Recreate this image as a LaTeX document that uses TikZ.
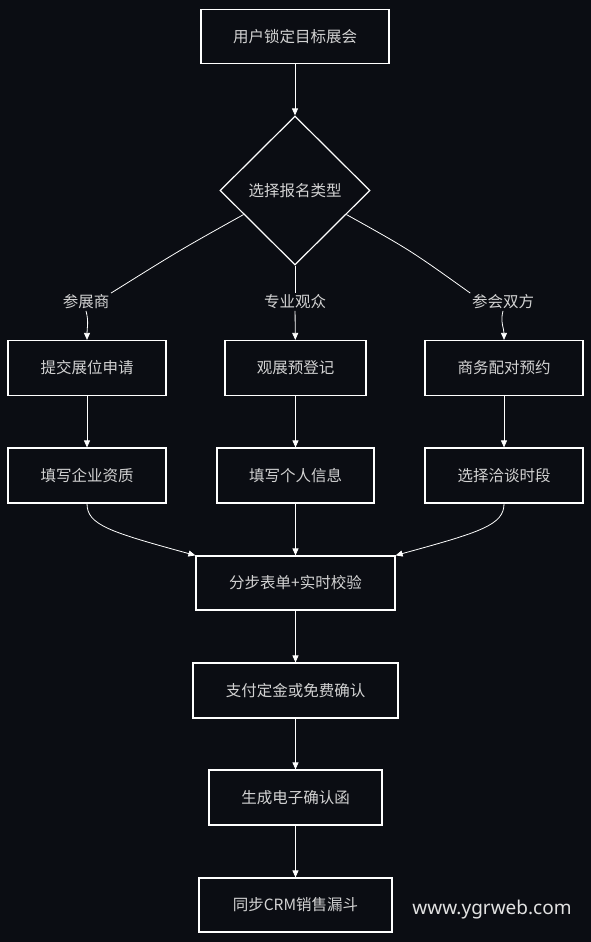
\documentclass[tikz,border=0pt]{standalone}
\usepackage{fontspec}
\setmainfont{Noto Sans CJK SC}
\newfontfamily\wmfont{Noto Sans}
\usetikzlibrary{shapes.geometric,arrows.meta,calc}
\definecolor{bg}{HTML}{0B0D13}
\definecolor{fg}{HTML}{D2D2D2}
\definecolor{wm}{HTML}{E2E2E2}
\begin{document}
\begin{tikzpicture}[x=1pt,y=-1pt,
  box/.style={draw=white, line width=1.2pt, fill=bg, text=fg, font=\fontsize{15.5}{18}\selectfont, minimum height=54pt, inner sep=0pt},
  dec/.style={diamond, draw=white, line width=1.2pt, fill=bg, text=fg, font=\fontsize{15.5}{18}\selectfont, minimum width=150pt, minimum height=149pt, inner sep=0pt},
  lbl/.style={fill=bg, text=fg, font=\fontsize{15.5}{18}\selectfont, inner sep=1.5pt},
  link/.style={draw=white, line width=0.8pt},
  arr/.style={draw=white, line width=0.8pt, -{Triangle[length=7pt,width=6pt]}},
]
\fill[bg] (0,0) rectangle (591,942);
\useasboundingbox (0,0) rectangle (591,942);

\node[box, minimum width=188pt] (n1) at (295,36.5) {用户锁定目标展会};
\node[dec] (d) at (295,190.5) {选择报名类型};

\node[lbl] (l1) at (86,302) {参展商};
\node[lbl] (l2) at (295,302) {专业观众};
\node[lbl] (l3) at (503,302) {参会双方};

\node[box, minimum width=158pt, minimum height=55pt] (b1) at (87,368) {提交展位申请};
\node[box, minimum width=141pt, minimum height=55pt] (b2) at (295.5,368) {观展预登记};
\node[box, minimum width=158pt, minimum height=55pt] (b3) at (504,368) {商务配对预约};

\node[box, minimum width=158pt, minimum height=55pt] (c1) at (87,475.5) {填写企业资质};
\node[box, minimum width=157pt, minimum height=55pt] (c2) at (295.5,475.5) {填写个人信息};
\node[box, minimum width=158pt, minimum height=55pt] (c3) at (504,475.5) {选择洽谈时段};

\node[box, minimum width=199pt] (f) at (295.5,583) {分步表单+实时校验};
\node[box, minimum width=205pt, minimum height=55pt] (p) at (295.5,690.5) {支付定金或免费确认};
\node[box, minimum width=173pt, minimum height=55pt] (g) at (295.5,797.5) {生成电子确认函};
\node[box, minimum width=193pt] (s) at (295.5,905) {同步CRM销售漏斗};

\node[text=wm, font=\wmfont\fontsize{19}{21}\selectfont] (w) at (492,910) {www.ygrweb.com};

\coordinate (dl) at ($(d.west)!0.32!(d.south)$);
\coordinate (dr) at ($(d.east)!0.32!(d.south)$);

\draw[arr] (n1) -- (d);
\draw[link] (dl) .. controls (180,250) .. (l1.north east);
\draw[link] (d.south) -- (l2);
\draw[link] (dr) .. controls (410,250) .. (l3.north west);
\draw[arr] (l1.south) to[out=-75,in=90] (b1.north);
\draw[arr] (l2) -- (b2);
\draw[arr] (l3.south) to[out=-105,in=90] (b3.north);

\draw[arr] (b1) -- (c1);
\draw[arr] (b2) -- (c2);
\draw[arr] (b3) -- (c3);

\draw[arr] (c1.south) .. controls (87,525) and (110,532) .. (f.north west);
\draw[arr] (c2) -- (f);
\draw[arr] (c3.south) .. controls (504,525) and (481,532) .. (f.north east);

\draw[arr] (f) -- (p);
\draw[arr] (p) -- (g);
\draw[arr] (g) -- (s);
\end{tikzpicture}
\end{document}
